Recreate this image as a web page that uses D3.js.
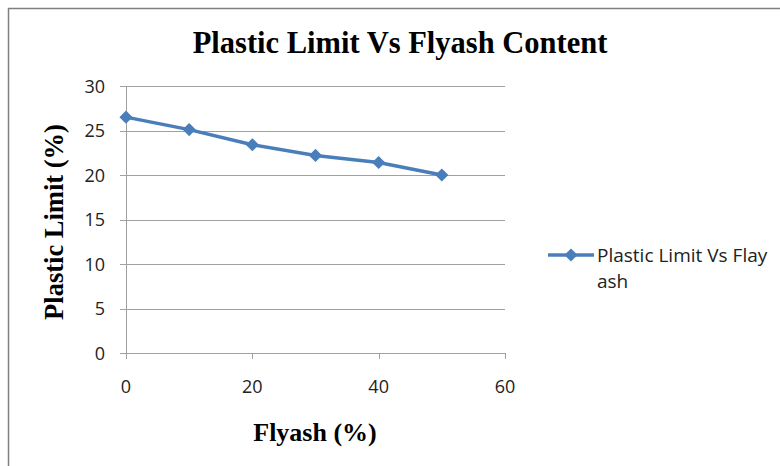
<!DOCTYPE html>
<html>
<head>
<meta charset="utf-8">
<script src="https://cdn.jsdelivr.net/npm/d3@7"></script>
<style>
  body { margin: 0; background: #fff; }
  svg { display: block; }
</style>
</head>
<body>
<svg id="chart" width="780" height="466"></svg>
<script>
// Flyash content (%) and measured plastic limit (%)
const flyash = [0, 10, 20, 30, 40, 50];
const plasticLimit = [26.5, 25.1, 23.4, 22.2, 21.4, 20.0];
const xTicks = [0, 20, 40, 60];
const yTicks = [0, 5, 10, 15, 20, 25, 30];
const seriesName = ["Plastic Limit Vs Flay", "ash"];

const svg = d3.select("#chart");
const blue = "#4a7ebb";
const grid = "#a0a0a0";
const tickFont = "'Open Sans', 'Noto Sans', sans-serif";
const serif = "'Liberation Serif', 'DejaVu Serif', serif";

// Outer chart frame
svg.append("rect")
  .attr("x", 8.5).attr("y", 8.5)
  .attr("width", 800).attr("height", 500)
  .attr("fill", "none").attr("stroke", "#808080").attr("stroke-width", 1.5);

const x = d3.scaleLinear().domain([0, 60]).range([126, 505]);
const y = d3.scaleLinear().domain([0, 30]).range([353, 86]);

// Horizontal gridlines with small left tick extensions
svg.append("g").selectAll("line").data(yTicks).join("line")
  .attr("x1", x(0) - 6).attr("x2", x(60))
  .attr("y1", d => Math.round(y(d)) + 0.5).attr("y2", d => Math.round(y(d)) + 0.5)
  .attr("stroke", grid).attr("stroke-width", 1);

// Vertical axis line
svg.append("line")
  .attr("x1", x(0) + 0.5).attr("x2", x(0) + 0.5)
  .attr("y1", y(30)).attr("y2", y(0) + 6)
  .attr("stroke", grid);

// X tick marks below the axis
svg.append("g").selectAll("line").data(xTicks).join("line")
  .attr("x1", d => Math.round(x(d)) + 0.5).attr("x2", d => Math.round(x(d)) + 0.5)
  .attr("y1", y(0)).attr("y2", y(0) + 6)
  .attr("stroke", grid);

// Y tick labels
svg.append("g").selectAll("text").data(yTicks).join("text")
  .attr("x", 105).attr("y", d => y(d) + 6.5)
  .attr("text-anchor", "end")
  .attr("font-family", tickFont).attr("font-size", 18).attr("fill", "#222")
  .text(d => d);

// X tick labels
svg.append("g").selectAll("text").data(xTicks).join("text")
  .attr("x", d => x(d)).attr("y", 393)
  .attr("text-anchor", "middle")
  .attr("font-family", tickFont).attr("font-size", 18).attr("fill", "#222")
  .text(d => d);

// Series line
const pts = flyash.map((f, i) => [f, plasticLimit[i]]);
svg.append("path")
  .datum(pts)
  .attr("d", d3.line().x(d => x(d[0])).y(d => y(d[1])))
  .attr("fill", "none").attr("stroke", blue).attr("stroke-width", 3.5)
  .attr("stroke-linejoin", "round");

// Diamond markers
const diamond = d3.symbol().type(d3.symbolDiamond2).size(110);
svg.append("g").selectAll("path").data(pts).join("path")
  .attr("transform", d => `translate(${x(d[0])},${y(d[1])})`)
  .attr("d", diamond)
  .attr("fill", blue);

// Title
svg.append("text")
  .attr("x", 400).attr("y", 53)
  .attr("text-anchor", "middle")
  .attr("font-family", serif)
  .attr("font-weight", "bold").attr("font-size", 30.5).attr("fill", "#000")
  .text("Plastic Limit Vs Flyash Content");

// Axis titles
svg.append("text")
  .attr("transform", "translate(63,222) rotate(-90)")
  .attr("text-anchor", "middle")
  .attr("font-family", serif)
  .attr("font-weight", "bold").attr("font-size", 26.5).attr("fill", "#000")
  .text("Plastic Limit (%)");

svg.append("text")
  .attr("x", 315).attr("y", 441)
  .attr("text-anchor", "middle")
  .attr("font-family", serif)
  .attr("font-weight", "bold").attr("font-size", 26).attr("fill", "#000")
  .text("Flyash (%)");

// Legend
const lg = svg.append("g");
lg.append("line")
  .attr("x1", 548).attr("x2", 594).attr("y1", 255).attr("y2", 255)
  .attr("stroke", blue).attr("stroke-width", 3.5);
lg.append("path")
  .attr("transform", "translate(571,255)")
  .attr("d", diamond)
  .attr("fill", blue);
lg.selectAll("text").data(seriesName).join("text")
  .attr("x", 597).attr("y", (d, i) => 262 + i * 26)
  .attr("font-family", tickFont).attr("font-size", 19).attr("fill", "#222")
  .text(d => d);
</script>
</body>
</html>
